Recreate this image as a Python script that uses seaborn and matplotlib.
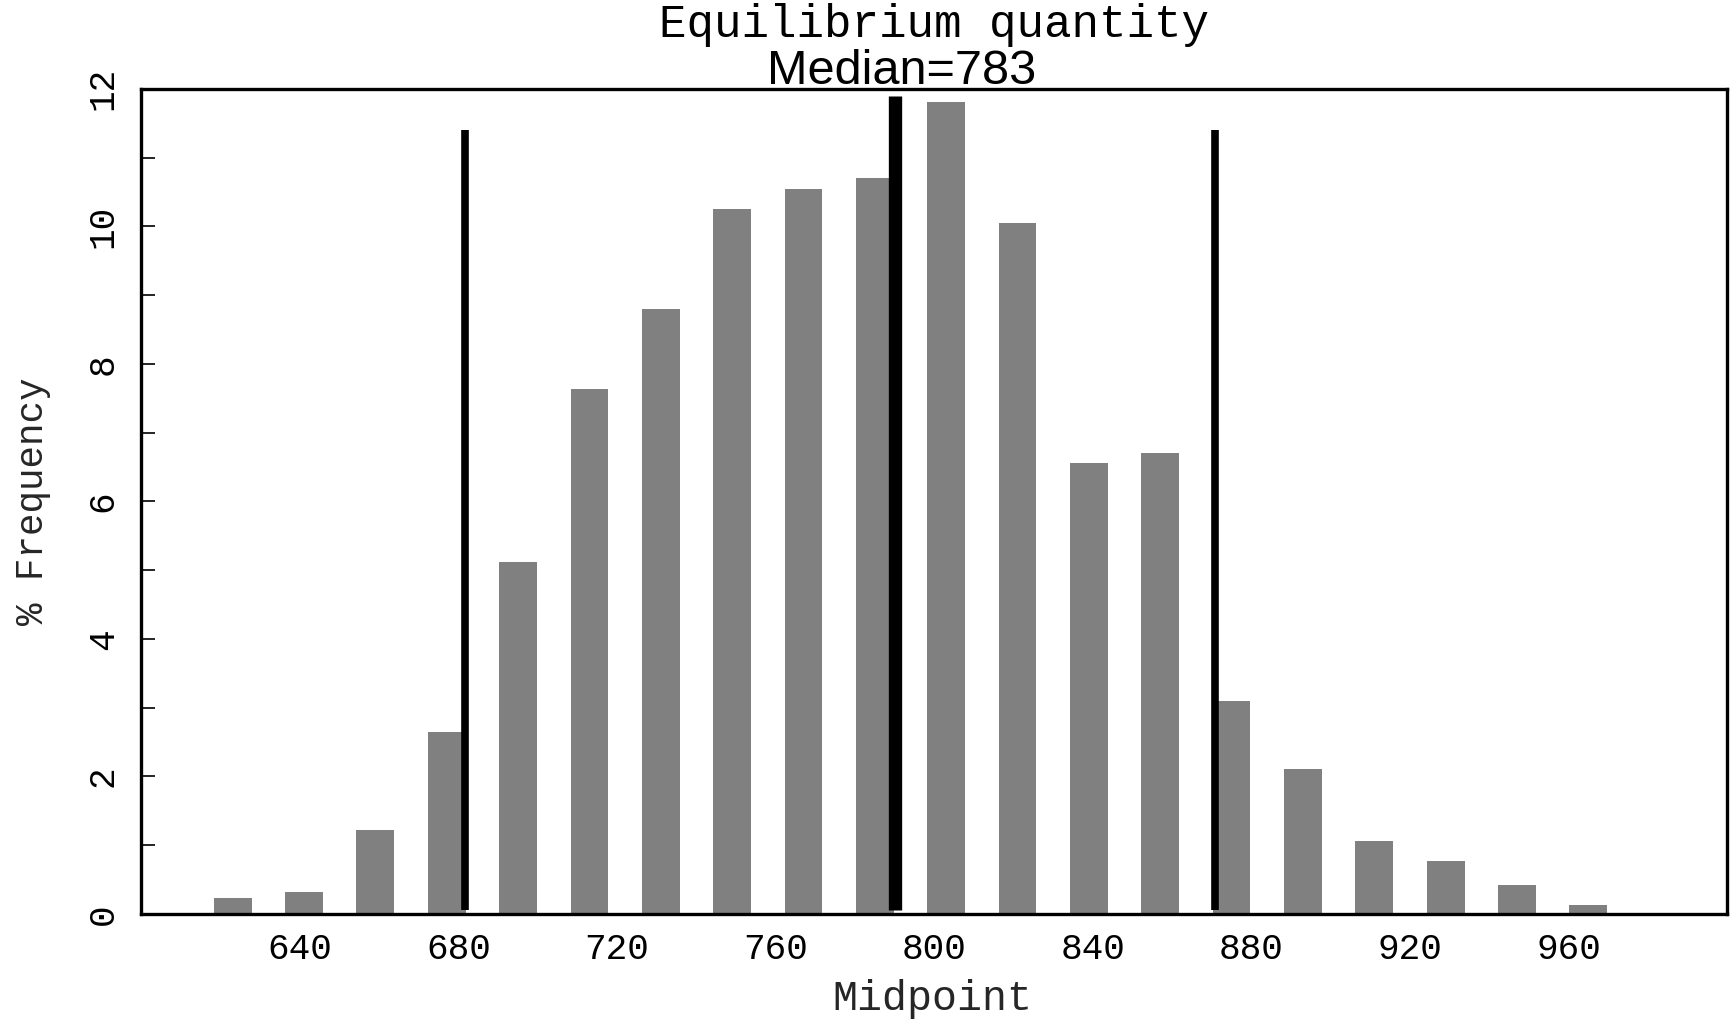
import matplotlib
matplotlib.use("Agg")
import matplotlib.pyplot as plt
import seaborn as sns
import pandas as pd

# ---- data ----
midpoints = [623, 641, 659, 677, 695, 713, 731, 749, 767, 785,
             803, 821, 839, 857, 875, 893, 911, 929, 947, 965]
pct_freq = [0.23, 0.31, 1.22, 2.65, 5.11, 7.64, 8.80, 10.25, 10.55, 10.71,
            11.81, 10.05, 6.55, 6.71, 3.10, 2.11, 1.06, 0.77, 0.42, 0.13]
ref_lines_x = [681.5, 790.0, 870.7]      # lower bound, median, upper bound
ref_lines_top = [11.40, 11.89, 11.40]
x_ticks = [640, 680, 720, 760, 800, 840, 880, 920, 960]
y_ticks = [0, 2, 4, 6, 8, 10, 12]
title_text = "Equilibrium quantity"
median_text = "Median=783"

df = pd.DataFrame({"Midpoint": midpoints, "% Frequency": pct_freq})

sns.set_theme(style="white")
plt.rcParams["font.family"] = ["Liberation Mono", "DejaVu Sans Mono"]

fig = plt.figure(figsize=(17.34, 10.21), dpi=100)
ax = fig.add_axes([0.0816, 0.105, 0.996 - 0.0816, 0.913 - 0.105])

sns.barplot(data=df, x="Midpoint", y="% Frequency", native_scale=True,
            width=0.53, color="#808080", saturation=1, errorbar=None,
            linewidth=0, ax=ax)

widths = [5.5, 9.6, 5.5]
for xv, top, lw in zip(ref_lines_x, ref_lines_top, widths):
    ax.plot([xv, xv], [0.06, top], color="black", lw=lw,
            solid_capstyle="butt", zorder=5)

ax.set_xlim(600, 1000)
ax.set_ylim(0, 12)
ax.set_xticks(x_ticks)
ax.set_xticklabels([str(t) for t in x_ticks])
ax.set_yticks(y_ticks)
ax.set_yticklabels([str(t) for t in y_ticks], rotation=90, va="center")
ax.set_yticks(range(0, 13), minor=True)

ax.tick_params(axis="x", length=0, pad=13, labelsize=26, colors="black")
ax.tick_params(axis="y", which="both", direction="in", length=10, width=1.2,
               left=True, right=False, pad=15, labelsize=26, colors="black")

for s in ax.spines.values():
    s.set_visible(True)
    s.set_color("black")
    s.set_linewidth(2.4)

ax.set_xlabel("Midpoint", fontsize=30, va="center")
ax.xaxis.set_label_coords(0.4986, -0.1035)
ax.set_ylabel("% Frequency", fontsize=27, va="center")
ax.yaxis.set_label_coords(-0.0684, 0.5)

fig.text(934 / 1734, 1 - 25 / 1021, title_text, ha="center", va="center",
         fontsize=33, color="black")
fig.text(902 / 1734, 1 - 72 / 1021, median_text, ha="center", va="center",
         fontsize=35, color="black", family=["Liberation Sans", "DejaVu Sans"])

fig.savefig("out.png", dpi=100, facecolor="white")
